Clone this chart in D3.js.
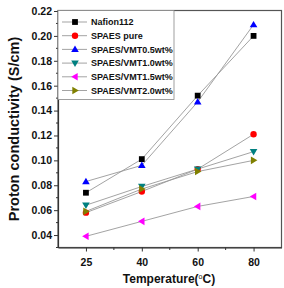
<!DOCTYPE html>
<html><head><meta charset="utf-8">
<script src="https://cdn.jsdelivr.net/npm/d3@7"></script>
<style>
body{margin:0;background:#fff;}
text{font-family:"Liberation Sans",Arial,sans-serif;font-weight:bold;}
</style></head>
<body><svg id="c" width="284" height="288"></svg>
<script>
const temps = ["25","40","60","80"];
const nafion112 = [0.074, 0.101, 0.152, 0.200];
const spaesPure = [0.058, 0.075, 0.093, 0.121];
const vmt05 = [0.083, 0.096, 0.147, 0.209];
const vmt10 = [0.064, 0.079, 0.093, 0.107];
const vmt15 = [0.039, 0.051, 0.063, 0.071];
const vmt20 = [0.059, 0.077, 0.091, 0.100];
const seriesNames = ["Nafion112","SPAES pure","SPAES/VMT0.5wt%","SPAES/VMT1.0wt%","SPAES/VMT1.5wt%","SPAES/VMT2.0wt%"];
const yTicks = [0.04,0.06,0.08,0.10,0.12,0.14,0.16,0.18,0.20,0.22];

const series = [
  {name:seriesNames[0], values:nafion112, color:"#000000", shape:"square"},
  {name:seriesNames[1], values:spaesPure, color:"#ff0000", shape:"circle"},
  {name:seriesNames[2], values:vmt05, color:"#0000ff", shape:"up"},
  {name:seriesNames[3], values:vmt10, color:"#008080", shape:"down"},
  {name:seriesNames[4], values:vmt15, color:"#ff00ff", shape:"left"},
  {name:seriesNames[5], values:vmt20, color:"#808000", shape:"right"}
];

const svg = d3.select("#c");
const L=58, R=281.5, T=10.5, B=247.5;
const x = d3.scalePoint().domain(temps).range([L,R]).padding(0.5);
const y = d3.scaleLinear().domain([0.03,0.22]).range([B,T+0.5]);

function marker(g, shape, cx, cy, color){
  const s=3.2;
  let p;
  if(shape==="square"){ g.append("rect").attr("x",cx-s+0.3).attr("y",cy-s+0.3).attr("width",2*s-0.6).attr("height",2*s-0.6).attr("fill",color); return; }
  if(shape==="circle"){ g.append("circle").attr("cx",cx).attr("cy",cy).attr("r",s).attr("fill",color); return; }
  const a=3.8;
  if(shape==="up") p=[[cx,cy-a],[cx+a,cy+a*0.7],[cx-a,cy+a*0.7]];
  if(shape==="down") p=[[cx,cy+a],[cx+a,cy-a*0.7],[cx-a,cy-a*0.7]];
  if(shape==="left") p=[[cx-a,cy],[cx+a*0.7,cy-a],[cx+a*0.7,cy+a]];
  if(shape==="right") p=[[cx+a,cy],[cx-a*0.7,cy-a],[cx-a*0.7,cy+a]];
  g.append("polygon").attr("points",p.map(d=>d.join(",")).join(" ")).attr("fill",color);
}

// frame
svg.append("rect").attr("x",L).attr("y",T).attr("width",R-L).attr("height",B-T)
  .attr("fill","none").attr("stroke","#555").attr("stroke-width",1.2);

// y axis
const yAxis = svg.append("g").attr("transform",`translate(${L},0)`)
  .call(d3.axisLeft(y).tickValues(yTicks).tickFormat(d3.format(".2f")).tickSize(4).tickSizeOuter(0));
yAxis.select(".domain").attr("stroke","#333").attr("stroke-width",1.2);
yAxis.selectAll(".tick line").attr("stroke","#333");
yAxis.selectAll("text").attr("font-size",10.5).attr("fill","#111").attr("x",-6);
const yMinor = d3.range(0.03,0.225,0.02).map(v=>+v.toFixed(2));
svg.append("g").selectAll("line").data(yMinor).join("line")
  .attr("x1",L-2).attr("x2",L).attr("y1",d=>y(d)).attr("y2",d=>y(d)).attr("stroke","#333");

// x axis
const xAxis = svg.append("g").attr("transform",`translate(0,${B})`)
  .call(d3.axisBottom(x).tickSize(4).tickSizeOuter(0));
xAxis.select(".domain").attr("stroke","#333").attr("stroke-width",1.2);
xAxis.selectAll(".tick line").attr("stroke","#333");
xAxis.selectAll("text").attr("font-size",10.5).attr("fill","#111").attr("dy","1.05em");
const step = x.step();
const xMinor = temps.slice(0,-1).map(t=>x(t)+step/2);
svg.append("g").selectAll("line").data(xMinor).join("line")
  .attr("x1",d=>d).attr("x2",d=>d).attr("y1",B).attr("y2",B+2.5).attr("stroke","#333");

// lines and markers
const line = d3.line().x((d,i)=>x(temps[i])).y(d=>y(d));
series.forEach(s=>{
  svg.append("path").attr("d",line(s.values)).attr("fill","none").attr("stroke","#999").attr("stroke-width",0.9);
});
series.forEach(s=>{
  const g=svg.append("g");
  s.values.forEach((v,i)=>marker(g,s.shape,x(temps[i]),y(v),s.color));
});

// legend
const lg = svg.append("g");
lg.append("rect").attr("x",L).attr("y",T).attr("width",116).attr("height",89)
  .attr("fill","#fff").attr("stroke","#888").attr("stroke-width",0.8);
series.forEach((s,i)=>{
  const cy = 22 + i*13.7;
  lg.append("line").attr("x1",62).attr("x2",87).attr("y1",cy).attr("y2",cy).attr("stroke","#999").attr("stroke-width",0.9);
  marker(lg,s.shape,75,cy,s.color);
  lg.append("text").attr("x",91).attr("y",cy+3.3).attr("font-size",9).attr("fill","#111").text(s.name);
});

// axis titles
svg.append("text").attr("transform",`translate(19,${(T+B)/2}) rotate(-90)`).attr("text-anchor","middle")
  .attr("font-size",14.5).attr("fill","#111").text("Proton conductivity (S/cm)");
const xt = svg.append("text").attr("x",169).attr("y",283).attr("text-anchor","middle")
  .attr("font-size",12).attr("fill","#111");
xt.append("tspan").text("Temperature(");
xt.append("tspan").attr("font-size",7).attr("font-weight","normal").attr("dy",-4).text("o");
xt.append("tspan").attr("dy",4).text("C)");
</script></body></html>
